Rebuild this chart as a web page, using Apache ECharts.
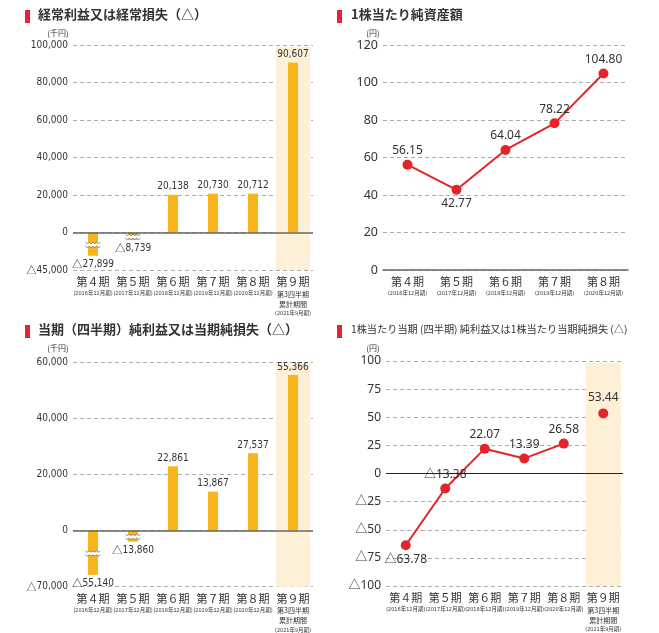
<!DOCTYPE html>
<html>
<head>
<meta charset="utf-8">
<script src="https://cdn.jsdelivr.net/npm/echarts@6/dist/echarts.min.js"></script>
<style>
    html, body {margin: 0; padding: 0; background: #fff;}
    #main {width: 659px; height: 633px;}
</style>
</head>
<body>
<div id="main"></div>
<script>
    // 期
    var periods = ['第４期', '第５期', '第６期', '第７期', '第８期', '第９期'];
    var periodNotes = ['(2016年12月期)', '(2017年12月期)', '(2018年12月期)', '(2019年12月期)', '(2020年12月期)',
        '第3四半期\n累計期間\n(2021年9月期)'];
    // 経常利益又は経常損失（千円）
    var ordinaryProfit = [-27899, -8739, 20138, 20730, 20712, 90607];
    // 当期（四半期）純利益又は当期純損失（千円）
    var netIncome = [-55140, -13860, 22861, 13867, 27537, 55366];
    // 1株当たり純資産額（円）
    var bps = [56.15, 42.77, 64.04, 78.22, 104.80];
    // 1株当たり当期（四半期）純利益（円）
    var eps = [-63.78, -13.38, 22.07, 13.39, 26.58, 53.44];
    // マイナス側の目盛（圧縮して表示）
    var ordinaryNegTick = 45000;
    var netNegTick = 70000;
    var highlightPeriods = ['第９期'];

    var RED = '#e3242b';
    var BAR = '#f9b51c';
    var BAND = '#fdf0d6';
    var TXT = '#333';
    var NARROW = "'DejaVu Sans Condensed', 'Noto Sans CJK JP', sans-serif";
    var JP = "'Noto Sans CJK JP', sans-serif";
    var NUM = "'Noto Sans', 'Noto Sans CJK JP', sans-serif";

    function comma(v) {
        return Math.abs(v).toLocaleString('en-US');
    }
    function tri(v, txt) {
        return (v < 0 ? '△' : '') + txt;
    }
    // 細い数字フォント用：△だけ和文フォントで
    function triRich(v, txt) {
        return (v < 0 ? '{t|△}' : '') + txt;
    }
    // マイナス側を1目盛に圧縮
    function squash(v, negTick, step) {
        return v < 0 ? v * step / negTick : v;
    }

    function xLabel(value, index) {
        var notes = periodNotes[index].split('\n');
        var s = '{a|' + value + '}';
        notes.forEach(function (n) {
            s += '\n' + (n.charAt(0) === '(' ? '{b|' + n + '}' : '{c|' + n + '}');
        });
        return s;
    }

    function xAxis(gridIndex, cats) {
        return {
            type: 'category', gridIndex: gridIndex, data: cats,
            axisTick: {show: false},
            axisLine: {onZero: false, show: gridIndex === 1, lineStyle: {color: '#666', width: 1.5}},
            axisLabel: {
                interval: 0, margin: 5, formatter: xLabel,
                rich: {
                    a: {fontFamily: JP, fontSize: 11, color: TXT, lineHeight: 14},
                    b: {fontFamily: NARROW, fontSize: 5.5, color: TXT, lineHeight: 9},
                    c: {fontFamily: JP, fontSize: 7, color: TXT, lineHeight: 10}
                }
            }
        };
    }

    var dashed = {lineStyle: {color: '#aaa', type: [4, 3], width: 1}};

    function yAxis(gridIndex, min, max, step, fmt, font, size) {
        return {
            type: 'value', gridIndex: gridIndex, min: min, max: max, interval: step,
            axisLine: {show: false}, axisTick: {show: false},
            splitLine: dashed,
            axisLabel: {
                margin: 5, color: TXT, fontFamily: font, fontSize: size, formatter: fmt,
                rich: {t: {fontFamily: JP, fontSize: size, color: TXT}}
            }
        };
    }

    // 第9期のハイライト帯
    function bandSeries(xi, yi, w) {
        return {
            type: 'custom', xAxisIndex: xi, yAxisIndex: yi, silent: true, z: 0,
            data: highlightPeriods.map(function (p) { return [periods.indexOf(p), 0]; }),
            renderItem: function (params, api) {
                var c = api.coord([api.value(0), 0]);
                var cs = params.coordSys;
                return {type: 'rect', shape: {x: c[0] - w / 2, y: cs.y + 2, width: w, height: cs.height - 2},
                    style: {fill: BAND}};
            }
        };
    }

    function zeroLine(color, width) {
        return {
            symbol: 'none', silent: true, label: {show: false},
            lineStyle: {color: color, width: width, type: 'solid'},
            data: [{yAxis: 0}]
        };
    }

    function barSeries(xi, vals, negTick) {
        return {
            type: 'bar', xAxisIndex: xi, yAxisIndex: xi, barWidth: 10, z: 2,
            itemStyle: {color: BAR},
            data: vals.map(function (v) {
                return {
                    value: squash(v, negTick, 20000),
                    label: {position: v < 0 ? 'bottom' : 'top'}
                };
            }),
            label: {
                show: true, distance: 3, color: TXT, fontFamily: NARROW, fontSize: 10,
                formatter: function (p) { return triRich(vals[p.dataIndex], comma(vals[p.dataIndex])); },
                rich: {t: {fontFamily: JP, fontSize: 10.5, color: TXT}}
            },
            markLine: zeroLine('#666', 1.5)
        };
    }

    // マイナスの棒に入れる省略（波線）マーク
    function waveSeries(xi, vals, negTick) {
        var d = [];
        vals.forEach(function (v, i) {
            if (v < 0) d.push([i, squash(v, negTick, 20000) / 2]);
        });
        return {
            type: 'custom', xAxisIndex: xi, yAxisIndex: xi, z: 3, silent: true,
            data: d,
            renderItem: function (params, api) {
                var c = api.coord([api.value(0), api.value(1)]);
                var w = 15, h = 4, n = 16, top = [], bot = [];
                for (var k = 0; k <= n; k++) {
                    var x = c[0] - w / 2 + k * w / n;
                    var dy = Math.abs(Math.sin(k / n * Math.PI * 4)) * 1.3;
                    top.push([x, c[1] - h / 2 + dy]);
                    bot.push([x, c[1] + h / 2 + dy]);
                }
                return {
                    type: 'group', children: [
                        {type: 'polygon', shape: {points: top.concat(bot.slice().reverse())}, style: {fill: '#fff'}},
                        {type: 'polyline', shape: {points: top}, style: {stroke: '#666', lineWidth: 0.8, fill: null}},
                        {type: 'polyline', shape: {points: bot}, style: {stroke: '#666', lineWidth: 0.8, fill: null}}
                    ]
                };
            }
        };
    }

    function bigFmt(negTick) {
        return function (v) { return v < 0 ? '{t|△}' + comma(negTick) : comma(v); };
    }

    function pointLabel(pos) {
        return {position: pos};
    }

    function unitText(x, y, txt) {
        return {type: 'text', x: x, y: y,
            style: {text: txt, fill: TXT, font: '8px ' + JP, align: 'center', verticalAlign: 'middle'}};
    }

    var option = {
        animation: false,
        backgroundColor: '#fff',
        title: [
            {text: '経常利益又は経常損失（△）', left: 38, top: 8},
            {text: '1株当たり純資産額', left: 351, top: 8},
            {text: '当期（四半期）純利益又は当期純損失（△）', left: 38, top: 323},
            {text: '1株当たり当期 (四半期) 純利益又は1株当たり当期純損失 (△)', left: 351, top: 324,
                textStyle: {fontSize: 10.2, fontWeight: 'normal', color: TXT, fontFamily: JP}}
        ].map(function (t) {
            t.padding = 0;
            t.textStyle = t.textStyle || {fontSize: 13, fontWeight: 'bold', color: TXT, fontFamily: JP};
            return t;
        }),
        graphic: [
            {type: 'rect', x: 25, y: 10, shape: {width: 5, height: 13}, style: {fill: '#e8232f'}},
            {type: 'rect', x: 337, y: 10, shape: {width: 5, height: 13}, style: {fill: '#e8232f'}},
            {type: 'rect', x: 25, y: 325, shape: {width: 5, height: 13}, style: {fill: '#e8232f'}},
            {type: 'rect', x: 337, y: 325, shape: {width: 5, height: 13}, style: {fill: '#e8232f'}},
            unitText(58, 33, '(千円)'),
            unitText(373, 33, '(円)'),
            unitText(58, 348, '(千円)'),
            unitText(373, 348, '(円)')
        ],
        grid: [
            {left: 73, top: 45, width: 240, height: 225},
            {left: 383, top: 45, width: 245, height: 225},
            {left: 73, top: 362, width: 240, height: 225},
            {left: 386, top: 361, width: 237, height: 225}
        ],
        xAxis: [
            xAxis(0, periods),
            xAxis(1, periods.slice(0, bps.length)),
            xAxis(2, periods),
            xAxis(3, periods)
        ],
        yAxis: [
            yAxis(0, -20000, 100000, 20000, bigFmt(ordinaryNegTick), NARROW, 10),
            yAxis(1, 0, 120, 20, null, NUM, 12.5),
            yAxis(2, -20000, 60000, 20000, bigFmt(netNegTick), NARROW, 10),
            yAxis(3, -100, 100, 25, function (v) { return tri(v, Math.abs(v)); }, NUM, 12)
        ],
        series: [
            bandSeries(0, 0, 34),
            barSeries(0, ordinaryProfit, ordinaryNegTick),
            waveSeries(0, ordinaryProfit, ordinaryNegTick),

            {
                type: 'line', xAxisIndex: 1, yAxisIndex: 1,
                symbol: 'circle', symbolSize: 10,
                lineStyle: {color: RED, width: 2}, itemStyle: {color: RED},
                data: bps.map(function (v, i) {
                    return {value: v, label: pointLabel(i > 0 && v < bps[i - 1] ? 'bottom' : 'top')};
                }),
                label: {
                    show: true, distance: 3, color: TXT, fontFamily: NUM, fontSize: 12,
                    formatter: function (p) { return p.value.toFixed(2); }
                }
            },

            bandSeries(2, 2, 34),
            barSeries(2, netIncome, netNegTick),
            waveSeries(2, netIncome, netNegTick),

            bandSeries(3, 3, 35),
            {
                type: 'line', xAxisIndex: 3, yAxisIndex: 3, z: 3,
                symbol: 'circle', symbolSize: 10,
                lineStyle: {color: RED, width: 2}, itemStyle: {color: RED},
                data: eps.slice(0, 5).map(function (v, i) {
                    return {value: v, label: pointLabel(i === 0 ? 'bottom' : 'top')};
                }),
                label: {
                    show: true, distance: 3, color: TXT, fontFamily: NUM, fontSize: 12,
                    formatter: function (p) { return tri(p.value, Math.abs(p.value).toFixed(2)); }
                },
                markLine: zeroLine('#222', 1)
            },
            {
                type: 'scatter', xAxisIndex: 3, yAxisIndex: 3, z: 3,
                symbol: 'circle', symbolSize: 10, itemStyle: {color: RED, opacity: 1},
                data: eps.map(function (v, i) { return i < 5 ? '-' : v; }),
                label: {
                    show: true, position: 'top', distance: 5, color: TXT, fontFamily: NUM, fontSize: 12,
                    formatter: function (p) { return tri(p.value, Math.abs(p.value).toFixed(2)); }
                }
            }
        ]
    };

    var myChart = echarts.init(document.getElementById('main'));
    myChart.setOption(option);
</script>
</body>
</html>
